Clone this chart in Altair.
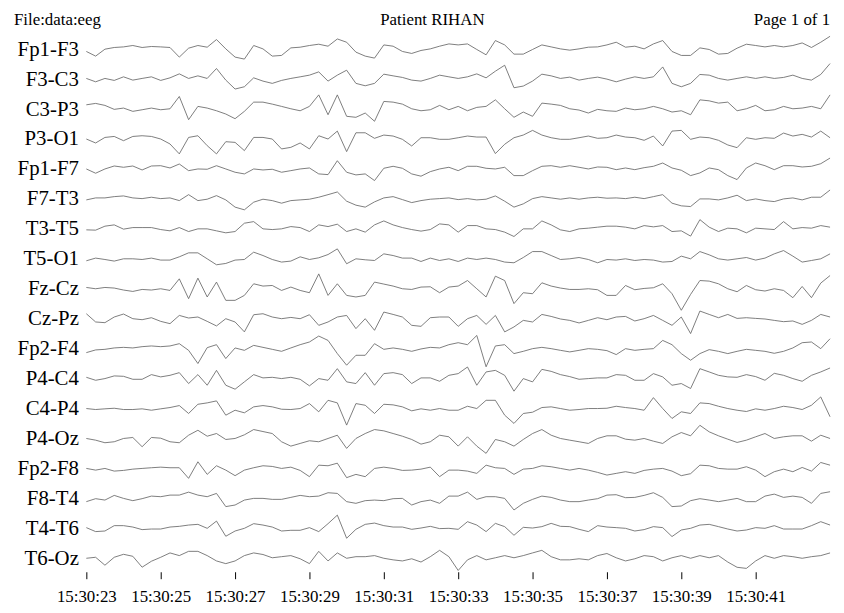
import json
import altair as alt
import pandas as pd

# ---------------- data ----------------
channels = ["Fp1-F3", "F3-C3", "C3-P3", "P3-O1", "Fp1-F7", "F7-T3", "T3-T5", "T5-O1",
            "Fz-Cz", "Cz-Pz", "Fp2-F4", "P4-C4", "C4-P4", "P4-Oz", "Fp2-F8", "F8-T4",
            "T4-T6", "T6-Oz"]
tick_seconds = [0, 2, 4, 6, 8, 10, 12, 14, 16, 18]
tick_labels = ["15:30:23", "15:30:25", "15:30:27", "15:30:29", "15:30:31",
               "15:30:33", "15:30:35", "15:30:37", "15:30:39", "15:30:41"]
title_left = "File:data:eeg"
title_center = "Patient RIHAN"
title_right = "Page 1 of 1"
sample_step = 0.25  # seconds between samples

fp1_f3 = [-2.3, -7, 0, 1.7, 2.3, 3.7, 1.7, 2.7, 2.3, 1.7, -8, 1, 3.7, 2, 9.7, 0.3, -8, -10, 3.7, 0.3, -7, -6.3, 1.3, 2, 3.7, 5, 3,
          10.3, 7, -3, -7, -9, 4.3, 3, -2.3, -4.3, -1.3, 0.3, 3, 5.3, 4.3, 5.3, -0.3, -5.7, 8.7, 4.3, -5, -5, -0.3, 4.3, 2.3, 0.3, -1, 0.3, 2,
          2.3, 4.3, 7, 2, 3, 0.3, 5.3, 8.7, -2.3, -6.3, -6.3, 1.3, -0.3, -5, -4.3, 1, 5, 3.7, 2.3, 3.7, 2.3, 3.7, 6.3, 1.7, 7, 13]
f3_c3 = [0.7, -2.7, 0.7, -1.3, 2.3, -1, 0.7, 2.3, -1.3, 1.3, 5.3, 0.7, 3.3, 0.7, 10.7, -1, -10, -7.7, 1.3, -2, -4.3, -1.3, 0.7, 2.3, 4, 7.3, -2,
         4, 9, -4.3, -6.7, -4.3, 5, 3.3, 1.7, -1, -2, 0.7, 4, 2.3, 0.7, 2.3, 5.3, 1.3, 8, 14, -8.7, -7, -2, 5, 3.3, 0.7, 2, -1, 0.7,
         2, 0, -2.7, 0, 2.3, 0.7, 2.3, 12.3, -4.3, -7.7, -4.3, 4.7, 4, 0.7, -1, 0.7, 2.3, 0.7, 2.3, 0.7, 1.7, 4, 0.7, -1, 4.7, 15.7]
c3_p3 = [4.3, 5.7, 3.7, -0.3, 1, -2.3, -0.7, 1, -0.7, 0.3, 12.7, -10.7, 2.7, 1, -1.7, -5, -9.7, -2.3, 7, 7, 5, 2.7, 0.3, -1.7, 2.7, 14.3, -5.7,
         14.3, -7.3, -8.3, -4, -12.3, 7.7, 7, 5, 0.3, -1.7, -0.7, 3.7, -0.7, 2.7, -1.7, 1.7, 2.7, 9.3, 0.3, -8.3, -3, -7.3, 6, 5, 3.7, 0.3, -1, -4,
         -0.3, -1.7, -2.3, 1, -0.7, 0.3, 2.7, 0.3, -3, -1.7, -5.7, 9.3, 8.3, 6, 7, -1.7, 0.3, 3.7, -1.7, -0.7, 2.7, 0.3, 1, 2.7, 0.3, 14.3]
p3_o1 = [0, -4, 1.6, 2.6, -1.7, 2.6, 3.3, 2.6, 0, -5, -15, 1.6, 3.3, -6.7, -15, -2.7, -3.4, -11.7, 1.6, 1.6, 0, -10, -8.4, -4, -10, 3.3, 0,
         8, -12.7, 6.3, 6.3, 0.7, 4, 3, -0.3, -7, 1.3, 1.3, -0.3, -0.3, 1.3, 3, 2, 2, -14.7, -5.3, 1.3, 4, 8.7, 4, 1.3, -0.3, -0.3, 1.3, 3,
         0.7, 1.3, 4, 2, 1.3, -1.3, 3, -7, 8, 8.7, -0.3, 2, 1.3, -1.3, -6, -8.7, 1.3, -0.3, 1.3, 0.7, 6, 3, 4.7, 2, 8, 1.3]
fp1_f7 = [0, -4.3, 0, 3, 1.7, 3, -1, 3, 3.3, 1, 5, -1.7, 0, -0.3, 3.3, 0, -3.3, -5, 0, -1, -0.3, -3.3, -1.7, 0, 1, -5, -5.7,
          8.3, -3.3, -6, -5, -11.7, 0.7, 2.7, 0.7, -5, -7.3, -2.7, 0, 1.7, -1.7, 2.7, 2.7, 0.7, 0, 1.7, -6.7, -6.7, -1.7, 2.7, 3.3, 1.7, 3.3, 1.7, 0,
          2, 1.7, -0.7, 1, -0.7, 1.3, 2.7, 6, 1, -1.3, -6.7, -4, 1, -0.7, -6.7, -10.7, 1, 6, 3.3, -0.7, 3.3, 3.3, 2, 2.7, 5.3, 11]
f7_t3 = [-1, 1, 1, 2.3, 3, 1, 0.3, 1.7, 0.3, 1, -1.7, 4.3, -1.7, -0.3, 3.3, -1, -8.3, -11, -3.3, -0.3, -1.7, -4.3, -1.7, -1, -0.3, 1.7, 4.3,
         7, -2.3, -6.3, -8.3, -3, 1, 2.3, -0.7, -3.7, -1.7, -0.3, 0.3, 1, -0.7, 0.3, -1, -0.3, 3, -2.3, -8.3, -5, 0.3, 2.3, 1, -0.3, 1, -0.3, 1,
         1.7, 0.7, 1, 0.3, 1.7, 0.3, 2.3, 4.3, -4.3, -7, -7.7, 0, 0, -1, 1, 3.7, -1.7, 0, -1.7, -2.7, 0, 1, -1, 1.7, 1.7, 9]
t3_t5 = [-1, -1.3, 2.7, 4, -0.3, 1.3, 1.3, 1.3, -0.7, -2, 1.3, -2.7, 0, 0, -2, -4, -2.7, 5.7, 7.3, 0, -0.7, 0, 2.3, 1.3, -2.7, 4, 2.3,
         4.7, -2.7, 0, -3.3, 4, 8, 4, 1.3, -0.7, -2.3, -0.7, 5, 4, -3.3, 3.3, 3.3, 0, -0.7, -3.3, -7.7, 0, 0, 8, 4, -1, -2.7, 0, 0.7,
         1.7, 2.7, 2.7, 1.7, 0, 3.3, 2, 3.3, -2.7, -2, -7.3, 9.3, 1.7, -2.7, 0.7, 0, -4, 0.7, 0, -0.7, 7.3, 0, 1.3, 0.7, 3.3, 1.7]
t5_o1 = [-2, 0.7, -0.7, -2.3, 0, 0, -0.7, 0.7, -1.3, -1.3, 2, 6, 6, 0, -6, -4.7, -1.3, -0.7, 6.7, 3.3, -0.7, -3.3, -2.3, 2, -0.7, 1, 4.3,
         10, -5, 0, -1, -1.7, 5, 3.3, 0.7, 0.7, -2.7, 0.7, -1.7, 0, -2.7, 0.7, -0.7, 0.7, -0.7, -3.3, -4, 1.3, 7.3, 7.3, 3.3, -0.7, 0, 1.3, -0.7,
         -4, -0.7, -1.3, 0, -1.7, -0.7, -1.3, -3.3, -2.7, 2.7, 0, 7.3, 4, 0, -1.3, 0, 1.3, -1.3, 0.7, 5, 8.3, 2.7, -3.3, -1.7, 0, 5]
fz_cz = [1.3, 0, 1.3, 0.7, -1.3, -2.7, -0.7, -1.3, 0, -1.7, 10, -10, 10.7, -8.3, 6.7, -11.7, -11.7, -6.7, 5, 2.7, 3.3, -1.7, 1.7, -1.7, -4, 15, -6.7,
         5, -6.7, -8.3, -6.7, 6.7, 4.7, 2.7, 0, -0.7, 1.7, 2, -4, 1.7, 2.7, 8.3, 0, -8.3, 12.7, 8.3, -15, -4, -5, 6, 2.7, 0.7, -0.7, -0.7, 0,
         -1, -6.7, -6.7, 3.3, -1, 0.3, 1, 5, -5, -21.7, -5.7, 8.3, 7.7, 5, 0, -3, 3.3, -1, -2.3, 0, -1.7, -9, 2.3, -9, 5.7, 13.3]
cz_pz = [5, -3.3, -4, 1.7, 4.7, 0, -1, 1, -2.7, -5, 3.3, 0.7, 1.7, -2.7, -7.3, 0, -3.3, -13.3, 4, 5, 1.7, 0, 1.3, 0, 4, -6.7, -3.3,
         1.7, 3.3, -10, 0, -11.7, 6.7, 4.3, 1.7, -6.7, -7.7, 1, 1.7, 1.7, -7.7, 0, 3.3, -5.7, 3.3, -13.3, -8.3, -1.7, -3.3, 4.3, 2.3, -0.3, -1.7, -4.3, -1.7,
         1, -1, 1.7, 2.3, -2.3, 0, 3.3, -1.7, -6.7, 1.7, -15, 7.7, 4.3, 1, 4.3, 0.3, 1, 0.3, -0.3, -1.7, -3, -2.3, -5.7, -1.7, 4.3, 1.7]
fp2_f4 = [-4, -1.3, -0.7, 0.7, 1.3, 0.7, 2, 2.7, 2, 2.7, 5, -1.7, -15, 1, 4, -10, 0.7, -1.7, 3.3, 1.3, -0.7, -2.7, 0.7, 4, 6.7, 12.7, 8.3,
          -5, -16.7, -6.7, -6.7, 5, -0.7, 0.7, -0.7, -2.7, -0.3, 1.3, 0.7, 4, 6, 4, 13.3, -18.3, 2.7, 4, -5, -2.7, 0, 1.3, 0, -1.7, -3.3, -1.7, 0,
          -0.7, -2, -6, 0, -1.7, -0.7, 0, 8.3, 4, -5, -11.7, -5, -1, -2.7, -5, -2.7, -0.7, -1.7, -2.7, -4.7, -2.7, 0.7, 6, 6.7, 0, 10]
p4_c4 = [1.3, -1.7, 0, 2.7, 2.3, -0.7, -0.7, 4, 1.7, 3.3, 6, -5, 4, -6.7, 8.3, -6.7, -10.7, -3.3, 4, 0.7, 1.3, 0, 1.3, -0.7, -7.3, 0, -1.7,
         10, -3.3, -5, 6, -6.7, 5, 6, 4, -5, 0.7, 0.7, -2.7, 3.3, 5, 11.7, -6.7, 6.7, 8.3, 3.3, -12.7, 0, -3.3, 9.3, 7.3, 4, 2, -0.7, 0,
         0.7, 0.7, 4, 3.3, -1.7, -1.7, 5, 1.7, -6.7, -5, -10, 10, 6.7, 3.3, 1.7, 1.3, 4, 2, -1.7, 5.3, 3.3, 0, -2.7, 3.3, 6.7, 10.7]
c4_p4 = [0, -1, -0.3, 0.3, -1, -1, -0.3, -1.7, -0.3, 1, 3, -5, 4.3, 5.7, 7.7, -6.7, -1.7, -4.3, 1.7, 3, 1.7, -0.7, -1, 0, 5, -3.3, 8.3,
         5.7, -16.7, 5, 3.3, -5, 4.3, 3.7, 1.7, -2.3, -0.3, -1.7, 0, -1.7, -1.7, 2.3, 0, 8.3, 8.3, -6.7, -15, -5, -3.7, 1, 1.7, 0, -1.7, -1, 0,
         0, 0.3, 2.3, 1, 0, -1.7, 11, 0, -10, -3.3, -5, 5.7, 5, 2.3, 0, -1.7, -3, -0.3, -1.7, 0, 2.3, 1, -1, 3.3, 11.7, -8.3]
p4_oz = [0, -1.7, -4.3, -3.3, 0, 1, -8.3, 1, 0.3, -3.3, -4.3, 3.3, 8.3, 2.3, 5, -1, 0, 3.7, 9, 7, 5, -3.3, -7.7, -5, -2.3, -3.3, 0,
         3.3, -10, 0, 5, 9, 7.7, 5, 2.3, -1, -5.7, -3.3, 3.3, 1.7, -7.7, 1.7, -7.7, -15, -1, -3.3, -7.7, -1, 5, 9, 3.3, 0, -1.7, -3.3, -5,
         0, 2.7, 2.7, -0.7, -1.7, 0, -2.7, -5, 1.7, 6, 2.7, 13.3, 6.7, 2.7, -0.7, -4, -1.7, 1.7, 5, 0, 1.7, 2.7, 2.7, -2.7, 3.3, 0]
fp2_f8 = [0, -1.7, 0, -2.7, -2, -0.7, 0, 0.7, 1.3, 0.7, 0.7, -10, 6.7, -6, 2.7, -1.7, -7.3, -1.7, 0.7, 2.7, 2, 0, 1.3, -2, -8.3, 3.3, 2.7,
          5.3, -9.3, -6, -8.3, 0, 1.3, 0, -2, -1.7, -0.7, 1.3, -8.3, -1.7, -1.7, -2.7, -5, 3.3, 0.7, 0, -6, -0.7, 0, 2.7, 1.7, 0, -1.7, 0, -1.7,
          -4, -6.7, -5, -3.3, -5, -2, -0.7, 0, -2.7, -7.3, -5.3, 3.3, 2.7, 0, -0.7, -0.7, 1.7, -1.7, -8.3, -3.3, -0.7, -3.3, 1, -2.7, 6, 3.3]
f8_t4 = [-3.3, -0.3, -1.7, 3, 0, -2.3, -0.3, 2.3, 1.7, 3.3, 3.3, 6.3, 3.3, 1.7, 5, -8.3, -6.7, -1.7, 0, 0, -1, -1, 1, 3, 1.7, 2.3, 5.7,
         5, -3.3, -5, -2.3, -1.7, -2.3, -0.3, 0, -6.7, -3.3, -1.7, -5, 2.3, 2.3, 6.3, -1, 1.7, 1.7, 0, -11.7, -5, -1, 2.3, 1, -1.7, -3.3, -3.3, -1.7,
         -0.3, 3.3, 3.7, 0.7, 1, 3, 5.7, 1, -8.3, -7.7, -2.3, -0.3, -1.7, -3.3, -1.7, 0, -3.3, -3.3, 2.3, 4.3, 1, 2.3, 1, -5, 5, 6.7]
t4_t6 = [0.7, -3.3, -2.7, 2.7, 2.7, 1.3, -1.3, -0.7, -0.7, 1.3, 2, 3.3, 4, 0, 7.3, -8, -2.7, 0, 4.7, 3.3, 1.3, -2.7, -2, -2, 0.7, -3.3, 4.7,
         13.3, -10, -1, 4, 5.3, 2.7, 1.3, 1.3, -1, 0.3, 2, -0.3, 0, -1, 6.7, 3.3, -3.3, 5, 1.7, -7, 1, 0.3, 1.7, 5, 2, 1.7, -1, -3.3,
         2.7, 1.3, 0.7, 0, -2.7, -1.3, 1.7, 0.7, -8.3, -1.7, 0, 3.3, 4, 1.7, -0.7, -2.7, -1.7, 0.7, 0, 2.7, -0.7, -0.7, -0.7, 2.7, 6.7, 3.3]
t6_oz = [0, 1, -7, 1, 4, 2, -9, -3, 1, 5.4, 2.7, 7, 7, 2.7, -2.7, -5.4, -2.7, 2.7, 5.4, 3.8, 0.5, 1.6, 2.7, -0.5, -5.4, 7, -2.7,
         5.4, 0, 1.6, 1.6, 2.7, 0, -1.6, -2.7, -0.5, -3.8, 1.6, 8, 1.6, -12.3, -1.6, 2.7, -1.6, 0.5, 2.7, 0.5, 2.7, 5.4, 8, 1.6, -1.6, -1.6, -0.5, -1.6,
         2.7, 4.8, 0.5, -2.7, -0.5, 2.7, 1.6, -2.7, 0.5, 2.7, 0, 2.7, 0.5, 2.7, -3.8, -9.1, -10.2, -2.7, 2.7, 0, 2.7, 1.6, 0, 1.6, 2.7, 5.4]

traces = [fp1_f3, f3_c3, c3_p3, p3_o1, fp1_f7, f7_t3, t3_t5, t5_o1, fz_cz, cz_pz,
          fp2_f4, p4_c4, c4_p4, p4_oz, fp2_f8, f8_t4, t4_t6, t6_oz]

# ---------------- build table ----------------
ROW_GAP = 30.2
rows = []
for i, (name, vals) in enumerate(zip(channels, traces)):
    for k, v in enumerate(vals):
        rows.append({"channel": name, "t": k * sample_step, "y": -i * ROW_GAP + v})
df = pd.DataFrame(rows)

FONT = "Liberation Serif"
label_expr_y = json.dumps(channels) + f"[round(-datum.value / {ROW_GAP})]"
label_expr_x = json.dumps(tick_labels) + "[round(datum.value / 2)]"

lines = alt.Chart(df).mark_line(color="#666666", strokeWidth=0.85).encode(
    x=alt.X("t:Q",
            scale=alt.Scale(domain=[0, 20.16], nice=False, zero=False),
            axis=alt.Axis(values=tick_seconds, labelExpr=label_expr_x, title=None, grid=False,
                          domain=False, ticks=True, tickSize=7, tickColor="#000000", tickWidth=1,
                          labelFont=FONT, labelFontSize=17, labelColor="#000000",
                          labelPadding=10, labelFlush=False, labelOverlap=False)),
    y=alt.Y("y:Q",
            scale=alt.Scale(domain=[-17 * ROW_GAP - 13.6, 17], nice=False, zero=False),
            axis=alt.Axis(values=[-i * ROW_GAP for i in range(len(channels))],
                          labelExpr=label_expr_y, title=None, grid=False, domain=False,
                          ticks=False, labelFont=FONT, labelFontSize=21, labelColor="#000000",
                          labelPadding=8, labelOverlap=False, labelBound=False)),
    detail="channel:N",
)

def header(txt, align, xpos):
    return alt.Chart(pd.DataFrame({"txt": [txt]})).mark_text(
        align=align, baseline="middle", font=FONT, fontSize=17, color="#000000"
    ).encode(text="txt:N", x=alt.value(xpos), y=alt.value(-12))

chart = alt.layer(
    lines,
    header(title_left, "left", -73),
    header(title_center, "center", 349),
    header(title_right, "right", 750),
).properties(
    width=756, height=544,
    padding={"left": 79, "top": 22, "right": 0, "bottom": 31},
    autosize=alt.AutoSizeParams(type="none"),
    background="white",
).configure_view(stroke=None)

chart.save("out.html", embed_options={"renderer": "svg", "actions": False})
